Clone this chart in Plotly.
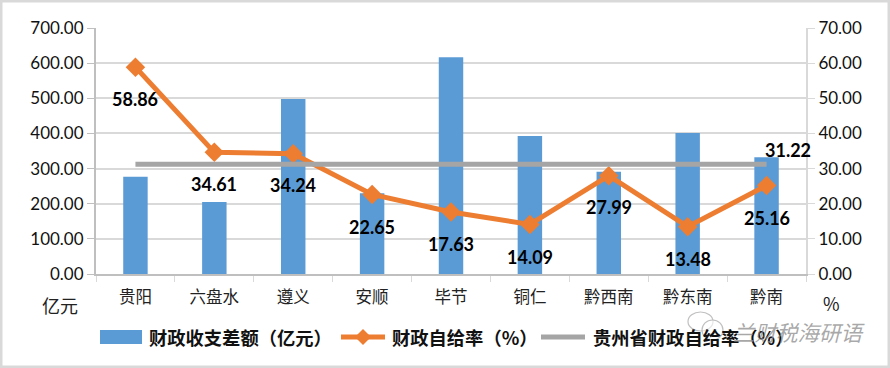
import plotly.graph_objects as go

categories = ["贵阳", "六盘水", "遵义", "安顺", "毕节", "铜仁", "黔西南", "黔东南", "黔南"]
gap_values = [277, 205, 498, 230, 617, 393, 291, 401, 332]
self_rate = [58.86, 34.61, 34.24, 22.65, 17.63, 14.09, 27.99, 13.48, 25.16]
province_rate = [31.22] * 9
left_ticks = [0, 100, 200, 300, 400, 500, 600, 700]
right_ticks = [0, 10, 20, 30, 40, 50, 60, 70]
label_shift_y = [-32, -32, -31, -33, -32, -33, -31, -32, -32]
series_names = ["财政收支差额（亿元）", "财政自给率（%）", "贵州省财政自给率（%）"]

NUM = "Lato, Open Sans, sans-serif"
CJK = "Noto Sans CJK SC, sans-serif"
W, H = 890, 368
L, R, T, B = 96, 84, 28, 94
PW, PH = W - L - R, H - T - B
BLUE, ORANGE, GRAY = "#5b9bd5", "#ed7d31", "#a5a5a5"


def px(x):
    return (x - L) / PW


def py(y):
    return 1 - (y - T) / PH


fig = go.Figure()
fig.add_trace(go.Bar(x=categories, y=gap_values, name=series_names[0], marker=dict(color=BLUE, line_width=0),
                     width=0.31, yaxis="y"))
fig.add_trace(go.Scatter(x=categories, y=self_rate, name=series_names[1], mode="lines+markers", yaxis="y2",
                         line=dict(color=ORANGE, width=5),
                         marker=dict(symbol="diamond", size=15, color=ORANGE)))
fig.add_trace(go.Scatter(x=categories, y=province_rate, name=series_names[2], mode="lines", yaxis="y2",
                         line=dict(color=GRAY, width=5)))

ann = []
LABEL_FONT = dict(family=NUM, size=18, color="#000")
for c, v, s in zip(categories, self_rate, label_shift_y):
    ann.append(dict(x=c, y=v, xref="x", yref="y2", text=f"<b>{v:.2f}</b>", showarrow=False, yshift=s, font=LABEL_FONT))
ann.append(dict(x=categories[-1], y=province_rate[-1], xref="x", yref="y2", text=f"<b>{province_rate[-1]:.2f}</b>",
                showarrow=False, xshift=21, yshift=14, font=LABEL_FONT))


def paper_text(x, y, t, size, color="#222", anchor="center"):
    ann.append(dict(x=px(x), y=py(y), xref="paper", yref="paper", text=t, showarrow=False, xanchor=anchor,
                    yanchor="middle", font=dict(family=CJK, size=size, color=color)))


paper_text(60, 305, "亿元", 18)
paper_text(831, 303, "%", 18)
paper_text(147, 337, f"<b>{series_names[0]}</b>", 18.3, "#111", "left")
paper_text(390, 337, f"<b>{series_names[1]}</b>", 18.3, "#111", "left")
paper_text(591, 337, f"<b>{series_names[2]}</b>", 18.3, "#111", "left")
paper_text(731, 331, "<i>兰财税海研语</i>", 21.5, "rgba(140,140,140,0.75)", "left")


def rect(x0, x1, y0, y1, color, width=0, fill=None, kind="rect"):
    return dict(type=kind, xref="paper", yref="paper", x0=px(x0), x1=px(x1), y0=py(y1), y1=py(y0),
                line=dict(color=color, width=width), fillcolor=fill, layer="above")


shapes = [
    rect(1, W - 1, 1, H - 1, "#d9d9d9", 3),
    rect(100, 142, 330, 344, BLUE, 0, BLUE),
    rect(341, 385, 334.5, 339.5, ORANGE, 0, ORANGE),
    rect(541, 585, 334.5, 339.5, GRAY, 0, GRAY),
    dict(type="path", xref="paper", yref="paper",
         path=f"M {px(355)} {py(337)} L {px(363)} {py(329)} L {px(371)} {py(337)} L {px(363)} {py(345)} Z",
         fillcolor=ORANGE, line=dict(color=ORANGE, width=0)),
    rect(688, 713, 312, 331, "rgba(185,185,185,0.9)", 1.2, "rgba(255,255,255,0.6)", "circle"),
    rect(702, 723, 320, 340, "rgba(185,185,185,0.9)", 1.2, "rgba(255,255,255,0.6)", "circle"),
]

fig.update_layout(
    width=W, height=H, margin=dict(l=L, r=R, t=T, b=B, pad=0), plot_bgcolor="white", paper_bgcolor="white",
    showlegend=False,
    xaxis=dict(type="category", range=[-0.5, 8.5], tickfont=dict(family=CJK, size=16.5, color="#222"), showline=True,
               linecolor="#bfbfbf", linewidth=2, ticks="outside", ticklen=6, tickcolor="#d9d9d9",
               tickson="boundaries", showgrid=False, ticklabelstandoff=7),
    yaxis=dict(range=[0, 700], tickvals=left_ticks, ticktext=[f"{v:.2f}" for v in left_ticks],
               tickfont=dict(family=NUM, size=17, color="#111"), gridcolor="#d9d9d9", gridwidth=2, showline=True,
               linecolor="#bfbfbf", linewidth=2, ticks="outside", ticklen=7, tickcolor="#bfbfbf", zeroline=False),
    yaxis2=dict(range=[0, 70], tickvals=right_ticks, ticktext=[f"{v:.2f}" for v in right_ticks], overlaying="y",
                side="right", tickfont=dict(family=NUM, size=17, color="#111"), showgrid=False, showline=True,
                linecolor="#d9d9d9", linewidth=2, ticks="outside", ticklen=7, tickcolor="#d9d9d9", zeroline=False),
    annotations=ann, shapes=shapes,
)
fig.write_html("out.html", config=dict(displayModeBar=False), post_script="document.body.style.margin='0';")
